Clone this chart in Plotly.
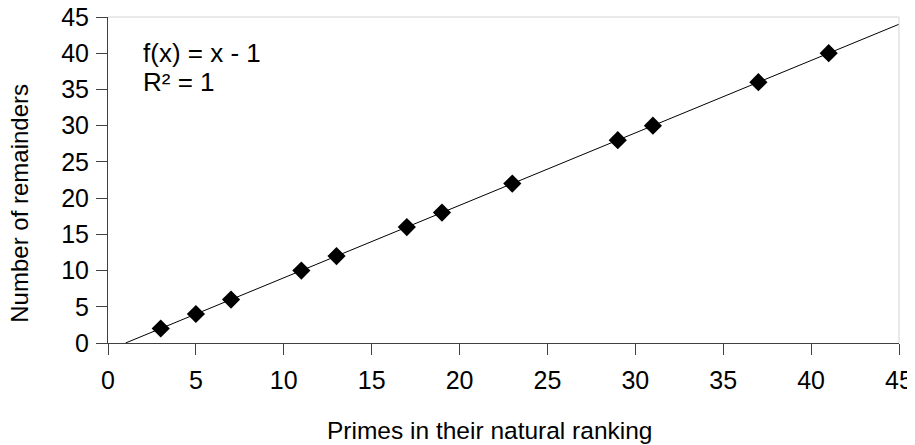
import plotly.graph_objects as go

primes = [3, 5, 7, 11, 13, 17, 19, 23, 29, 31, 37, 41]
remainders = [2, 4, 6, 10, 12, 16, 18, 22, 28, 30, 36, 40]
trend_x = [1, 45]
trend_y = [0, 44]
x_title = "Primes in their natural ranking"
y_title = "Number of remainders"
eq_line1 = "f(x) = x - 1"
eq_line2 = "R² = 1"

# page is 915x445; the plot div sits at an 8px body margin
OFF = 8
W, H = 915 - OFF, 445 - OFF
# plot area in page pixels
X0, X1, Y0, Y1 = 108, 899, 17, 343.5
L, R, T, B = X0 - OFF, 915 - X1, Y0 - OFF, 445 - Y1
pw, ph = X1 - X0, Y1 - Y0

def px(x):
    return (x - X0) / pw

def py(y):
    return (Y1 - y) / ph

FONT = "Liberation Sans, Arial, sans-serif"

fig = go.Figure()
fig.add_trace(go.Scatter(x=trend_x, y=trend_y, mode="lines",
                         line=dict(color="black", width=1), hoverinfo="skip"))
fig.add_trace(go.Scatter(x=primes, y=remainders, mode="markers",
                         marker=dict(symbol="diamond", size=14, color="black",
                                     line=dict(width=0))))

fig.add_shape(type="line", xref="paper", yref="paper", x0=0, x1=1, y0=1, y1=1,
              line=dict(color="#d4d4d4", width=1))
fig.add_shape(type="line", xref="paper", yref="paper", x0=1, x1=1, y0=0, y1=1,
              line=dict(color="#d4d4d4", width=1))

for txt, yy in ((eq_line1, 53), (eq_line2, 82)):
    fig.add_annotation(text=txt, xref="paper", yref="paper",
                       x=px(141), y=py(yy), xanchor="left", yanchor="middle",
                       align="left", showarrow=False,
                       font=dict(family=FONT, size=26, color="black"))
fig.add_annotation(text=x_title, xref="paper", yref="paper",
                   x=px(489.5), y=py(431), xanchor="center", yanchor="middle",
                   showarrow=False, font=dict(family=FONT, size=24.5, color="black"))
fig.add_annotation(text=y_title, xref="paper", yref="paper",
                   x=px(20), y=py(204), xanchor="center", yanchor="middle",
                   textangle=-90, showarrow=False,
                   font=dict(family=FONT, size=24, color="black"))

axis_common = dict(showgrid=False, zeroline=False, showline=True,
                   linecolor="#404040", linewidth=1, ticks="outside",
                   ticklen=11, tickcolor="#404040", tickwidth=1,
                   tickfont=dict(family=FONT, size=25, color="black"),
                   dtick=5, tick0=0, automargin=False,
                   ticklabeloverflow="allow")
fig.update_xaxes(range=[0, 45], ticklabelstandoff=4, **axis_common)
fig.update_yaxes(range=[0, 45], ticklabelstandoff=2, **axis_common)

fig.update_layout(width=W, height=H, showlegend=False,
                  margin=dict(l=L, r=R, t=T, b=B),
                  plot_bgcolor="white", paper_bgcolor="white",
                  font=dict(family=FONT))
fig.write_html("out.html")
